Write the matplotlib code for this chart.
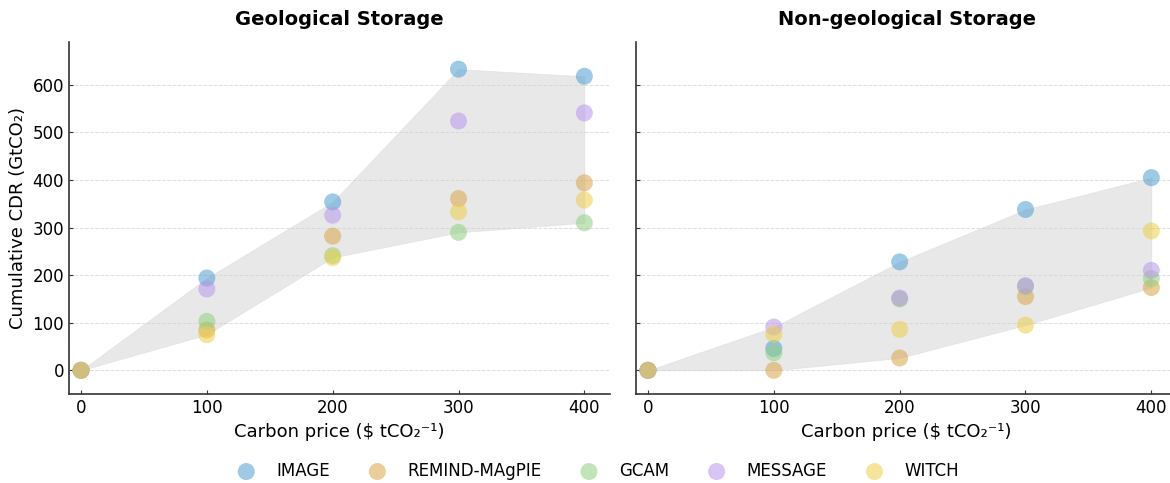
import numpy as np
import matplotlib
matplotlib.use("Agg")
import matplotlib.pyplot as plt

prices = [0, 100, 200, 300, 400]
models = ["IMAGE", "REMIND-MAgPIE", "GCAM", "MESSAGE", "WITCH"]
colors = ["#4f9fd2", "#d9a54a", "#8fd17f", "#b896ea", "#ecd04a"]

# cumulative CDR (GtCO2) per model at each carbon price
geo = {
    "IMAGE":         [0, 194, 354, 633, 618],
    "REMIND-MAgPIE": [0, 85, 282, 361, 394],
    "GCAM":          [0, 103, 241, 290, 310],
    "MESSAGE":       [0, 171, 326, 524, 541],
    "WITCH":         [0, 75, 237, 333, 358],
}
nongeo = {
    "IMAGE":         [0, 46, 228, 338, 405],
    "REMIND-MAgPIE": [0, 0, 26, 155, 174],
    "GCAM":          [0, 37, 150, 176, 193],
    "MESSAGE":       [0, 91, 152, 178, 210],
    "WITCH":         [0, 76, 86, 95, 293],
}

fig = plt.figure(figsize=(11.7, 4.83), dpi=100)
ax1 = fig.add_axes([0.059, 0.184, 0.4625, 0.729])
ax2 = fig.add_axes([0.5436, 0.184, 0.4625, 0.729], sharey=ax1)


def draw(ax, data, title):
    vals = np.array([data[m] for m in models])
    ax.fill_between(prices, vals.min(axis=0), vals.max(axis=0),
                    color="#d3d3d3", alpha=0.5, lw=0.5)
    for m, c in zip(models, colors):
        ax.scatter(prices, data[m], s=150, color=c, alpha=0.55,
                   edgecolors="none", label=m, zorder=3)
    ax.set_title(title, fontsize=14, fontweight="bold", pad=12)
    ax.set_xlabel("Carbon price ($ tCO\u2082\u207b\u00b9)", fontsize=13)
    ax.set_xlim(-9.5, 420.5)
    ax.set_xticks(prices)
    ax.set_ylim(-50, 690)
    ax.set_yticks(range(0, 700, 100))
    ax.grid(axis="y", ls="--", color="#dddddd", lw=0.7)
    ax.set_axisbelow(True)
    for s in ["top", "right"]:
        ax.spines[s].set_visible(False)
    for s in ["left", "bottom"]:
        ax.spines[s].set_color("#333333")
        ax.spines[s].set_linewidth(1.2)
    ax.tick_params(direction="in", labelsize=12, length=3, color="#333333")


draw(ax1, geo, "Geological Storage")
draw(ax2, nongeo, "Non-geological Storage")
ax1.set_ylabel("Cumulative CDR (GtCO\u2082)", fontsize=13)
plt.setp(ax2.get_yticklabels(), visible=False)

handles, labels = ax1.get_legend_handles_labels()
fig.legend(handles, labels, loc="center", bbox_to_anchor=(0.508, 0.025),
           ncol=5, frameon=False, fontsize=12, columnspacing=1.85,
           handletextpad=0.8)

fig.savefig("out.png", dpi=100)
